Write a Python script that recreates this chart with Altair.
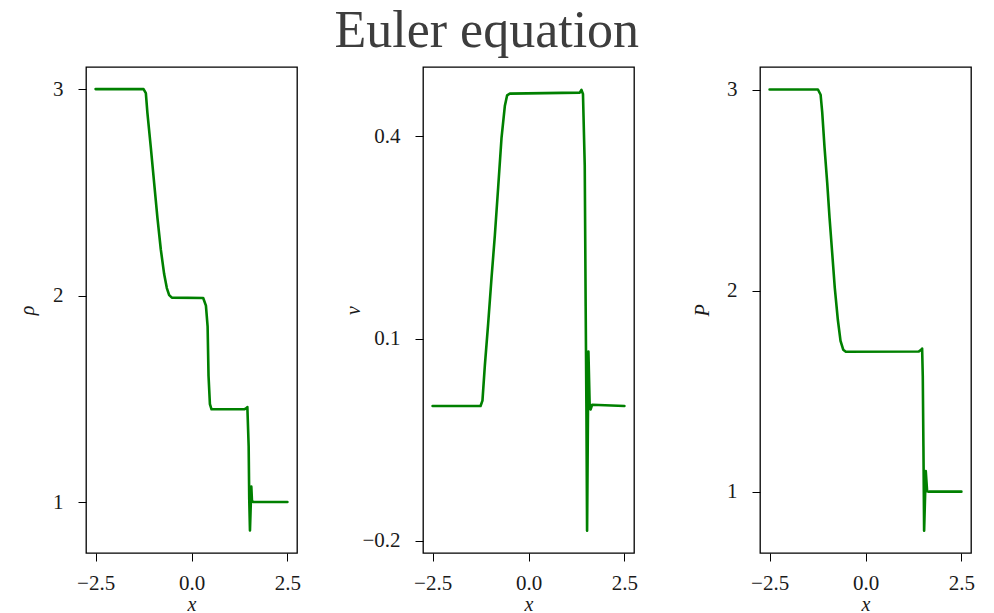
import altair as alt
import pandas as pd

# Riemann-problem solution sampled along x for the three primitive variables
rho_x = [-2.5, -1.25, -1.19, -1.15, -1.06, -0.974, -0.888, -0.80, -0.713, -0.643, -0.582, -0.512,
         0.305, 0.376, 0.42, 0.444, 0.48, 0.522, 1.376, 1.43, 1.456, 1.49, 1.505, 1.524, 1.559,
         1.576, 1.61, 2.5]
rho_y = [3.0, 3.0, 2.98, 2.886, 2.716, 2.546, 2.376, 2.223, 2.104, 2.036, 2.002, 1.99,
         1.988, 1.951, 1.849, 1.611, 1.474, 1.449, 1.449, 1.455, 1.46, 1.27, 1.015, 0.862, 1.075,
         1.007, 1.0, 1.0]

v_x = [-2.5, -1.25, -1.2, -1.138, -1.052, -0.964, -0.878, -0.79, -0.703, -0.617, -0.557, -0.487,
       1.336, 1.38, 1.42, 1.466, 1.49, 1.51, 1.527, 1.562, 1.596, 1.62, 1.66, 2.5]
v_y = [0.0, 0.0, 0.008, 0.06, 0.122, 0.19, 0.2525, 0.325, 0.398, 0.445, 0.461, 0.4635,
       0.465, 0.469, 0.463, 0.357, 0.148, -0.008, -0.185, 0.081, -0.003, -0.005, 0.002, 0.0]

p_x = [-2.5, -1.24, -1.17, -1.128, -1.068, -0.998, -0.937, -0.868, -0.8, -0.721, -0.651, -0.581,
       -0.513, 1.389, 1.45, 1.476, 1.493, 1.51, 1.528, 1.571, 1.606, 1.65, 2.5]
p_y = [3.0, 3.0, 2.974, 2.886, 2.712, 2.536, 2.362, 2.187, 2.012, 1.855, 1.75, 1.706,
       1.696, 1.697, 1.706, 1.712, 1.575, 1.225, 0.806, 1.103, 1.002, 1.0, 1.0]

x_ticks = [-2.5, 0.0, 2.5]
SERIF = "Liberation Serif"
GREEN = "#008000"
W, H = 211, 486


def panel(xs, ys, name, label, y_domain, y_ticks, y_fmt, title_x):
    df = pd.DataFrame({"x": xs, name: ys, "i": list(range(len(xs)))})
    return (
        alt.Chart(df)
        .mark_line(color=GREEN, strokeWidth=2.6, strokeJoin="round", strokeCap="round")
        .encode(
            x=alt.X(
                "x:Q",
                scale=alt.Scale(domain=[-2.75, 2.75], nice=False, zero=False),
                axis=alt.Axis(values=x_ticks, format=".1f", title="x", titleY=57,
                              titleBaseline="alphabetic", labelPadding=11),
            ),
            y=alt.Y(
                f"{name}:Q",
                scale=alt.Scale(domain=y_domain, nice=False, zero=False),
                axis=alt.Axis(values=y_ticks, format=y_fmt, title=label, titleX=title_x,
                              titleAngle=270, titleBaseline="middle", labelPadding=15),
            ),
            order="i:Q",
        )
        .properties(width=W, height=H)
    )


p1 = panel(rho_x, rho_y, "rho", "ρ", [0.753, 3.107], [1, 2, 3], "d", -59)
p2 = panel(v_x, v_y, "v", "v", [-0.218, 0.503], [-0.2, 0.1, 0.4], ".1f", -70)
p3 = panel(p_x, p_y, "P", "P", [0.695, 3.112], [1, 2, 3], "d", -58)

chart = (
    alt.hconcat(p1, p2, p3, spacing=126, bounds="flush")
    .properties(
        title=alt.TitleParams(
            text="Euler equation", font=SERIF, fontSize=52, fontWeight="normal",
            color="#3d3d3d", anchor="middle", offset=8, dx=-9,
        ),
        padding={"left": 16, "top": 5, "right": 5, "bottom": 0},
        background="white",
    )
    .configure_view(stroke="black", strokeWidth=1.3)
    .configure_axis(
        domain=False, grid=False, tickColor="black", tickWidth=1, tickSize=8,
        labelFont=SERIF, labelFontSize=21, labelColor="#1a1a1a",
        titleFont=SERIF, titleFontStyle="italic", titleFontWeight="normal",
        titleFontSize=20, titleColor="#1a1a1a",
    )
)

chart.save("out.html", embed_options={"renderer": "svg", "actions": False})
